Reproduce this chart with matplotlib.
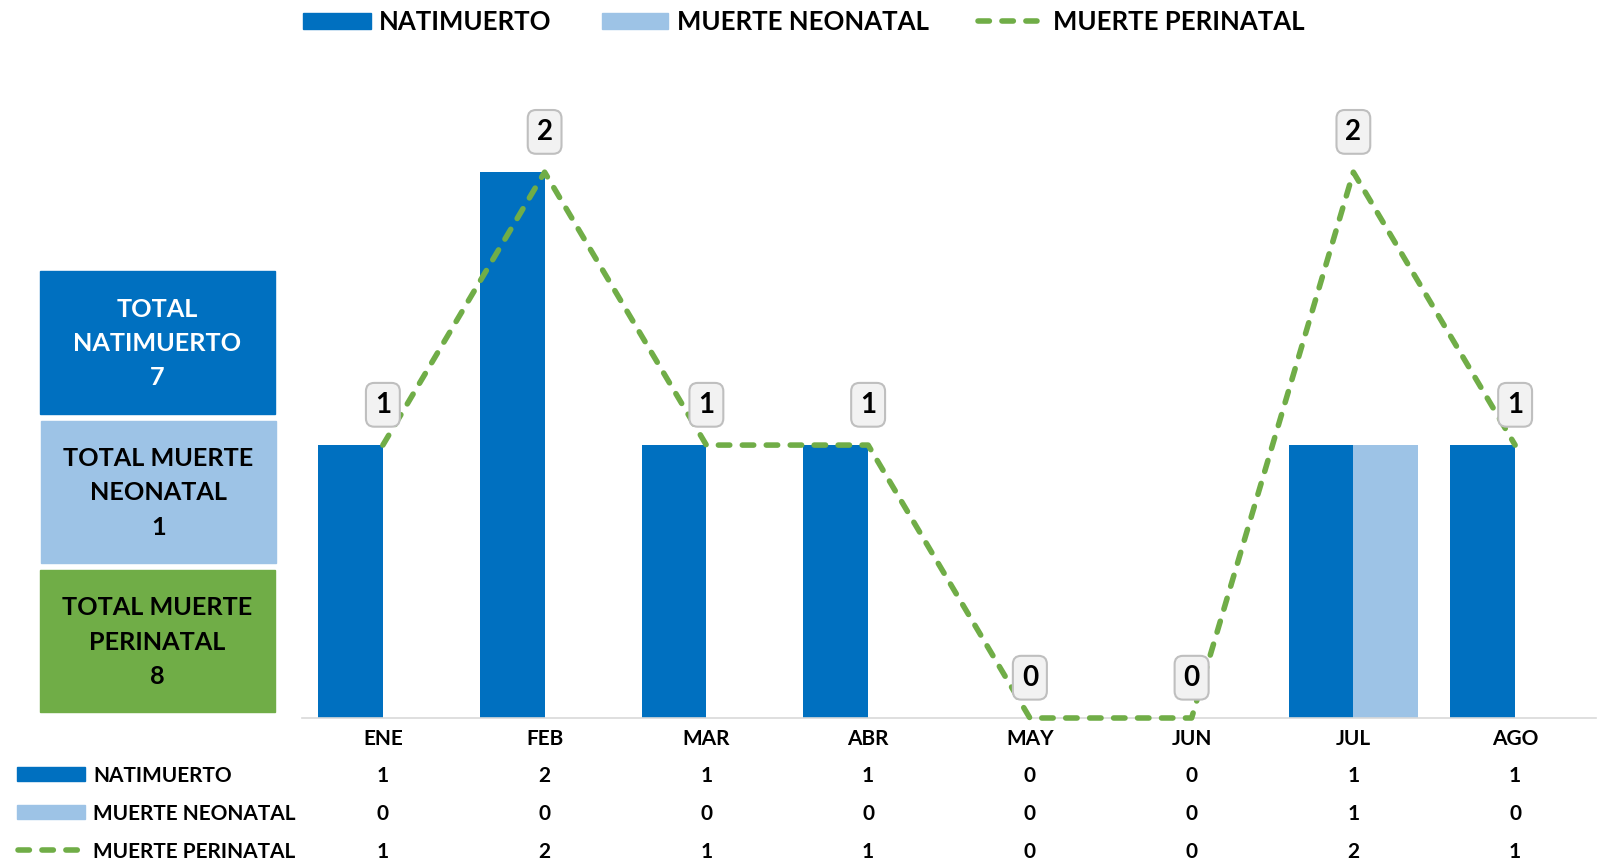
import matplotlib
matplotlib.use("Agg")
import matplotlib.pyplot as plt
import matplotlib.transforms as mtransforms
from matplotlib.patches import Rectangle
from matplotlib.lines import Line2D
import numpy as np

months = ["ENE", "FEB", "MAR", "ABR", "MAY", "JUN", "JUL", "AGO"]
natimuerto = [1, 2, 1, 1, 0, 0, 1, 1]
neonatal = [0, 0, 0, 0, 0, 0, 1, 0]
perinatal = [1, 2, 1, 1, 0, 0, 2, 1]
series_names = ["NATIMUERTO", "MUERTE NEONATAL", "MUERTE PERINATAL"]
totals = [7, 1, 8]

C_DARK = "#0070C0"
C_LIGHT = "#9DC3E6"
C_GREEN = "#70AD47"

plt.rcParams['font.family'] = ['Lato', 'DejaVu Sans']
S_TICK, S_BOX, S_LAB, S_LEG = 15.0, 18.2, 20, 18.5

W, H = 1601, 866
fig = plt.figure(figsize=(W / 100, H / 100), dpi=100)

def fx(px):
    return px / W

def fy(py):
    return 1 - py / H

ax = fig.add_axes([fx(302), fy(718), fx(1596) - fx(302), fy(63) - fy(718)])
x = np.arange(len(months))
bw = 0.4
ax.bar(x - bw / 2, natimuerto, width=bw, color=C_DARK, zorder=2)
ax.bar(x + bw / 2, neonatal, width=bw, color=C_LIGHT, zorder=2)
LW = 4.0
DASH = (0, (2.05, 2.26))
ax.plot(x, perinatal, color=C_GREEN, lw=LW, ls=DASH,
        dash_capstyle='round', zorder=3, clip_on=False)

ax.set_xlim(-0.5, len(months) - 0.5)
ax.set_ylim(0, 2.4)
for s in ["top", "right", "left"]:
    ax.spines[s].set_visible(False)
ax.spines["bottom"].set_color("#D9D9D9")
ax.spines["bottom"].set_linewidth(1.2)
ax.set_yticks([])
ax.set_xticks(x, months)
ax.tick_params(axis='x', length=0, pad=8, labelsize=S_TICK)
for lab in ax.get_xticklabels():
    lab.set_fontweight('bold')

# data labels on the line
for xi, v in zip(x, perinatal):
    ax.annotate(str(v), (xi, v), xytext=(0, 29), textcoords='offset points',
                ha='center', va='center', fontsize=S_LAB, fontweight='bold',
                color='black', zorder=5,
                bbox=dict(boxstyle='round,pad=0.32,rounding_size=0.3',
                          fc='#F2F2F2', ec='#BFBFBF', lw=1.5))

# top legend
leg_items = [(303, 371, 379, 'bar', C_DARK, series_names[0]),
             (602, 668, 677, 'bar', C_LIGHT, series_names[1]),
             (975, 1040, 1053, 'line', C_GREEN, series_names[2])]
for x0, x1, xt, kind, col, name in leg_items:
    if kind == 'bar':
        fig.add_artist(Rectangle((fx(x0), fy(29)), fx(x1) - fx(x0), fy(13) - fy(29),
                                 transform=fig.transFigure, color=col))
    else:
        fig.add_artist(Line2D([fx(x0 + 3), fx(x1 - 3)], [fy(21), fy(21)],
                              transform=fig.transFigure, color=col, lw=LW,
                              ls=DASH, dash_capstyle='round'))
    fig.text(fx(xt), fy(22), name, ha='left', va='center', fontsize=S_LEG,
             fontweight='bold', color='black')

# data table below
trans = mtransforms.blended_transform_factory(ax.transData, fig.transFigure)
row_y = [774, 812, 850]
rows = [natimuerto, neonatal, perinatal]
for ry, vals, name, kind, col in zip(row_y, rows, series_names,
                                      ['bar', 'bar', 'line'],
                                      [C_DARK, C_LIGHT, C_GREEN]):
    if kind == 'bar':
        fig.add_artist(Rectangle((fx(17), fy(ry + 7)), fx(85) - fx(17), fy(ry - 7) - fy(ry + 7),
                                 transform=fig.transFigure, color=col))
    else:
        fig.add_artist(Line2D([fx(18), fx(82)], [fy(ry), fy(ry)],
                              transform=fig.transFigure, color=col, lw=LW,
                              ls=DASH, dash_capstyle='round'))
    fig.text(fx(93), fy(ry + 2), name, ha='left', va='center', fontsize=S_TICK,
             fontweight='bold', color='black')
    for xi, v in zip(x, vals):
        ax.text(xi, fy(ry + 2), str(v), transform=trans, ha='center', va='center',
                fontsize=S_TICK, fontweight='bold', color='black')

# total boxes
boxes = [((40, 271, 275, 414), C_DARK, 'white', "TOTAL\nNATIMUERTO\n%d" % totals[0]),
         ((41, 421, 276, 563), C_LIGHT, 'black', "TOTAL MUERTE\nNEONATAL\n%d" % totals[1]),
         ((40, 570, 275, 712), C_GREEN, 'black', "TOTAL MUERTE\nPERINATAL\n%d" % totals[2])]
for (x0, y0, x1, y1), fc, tc, txt in boxes:
    fig.add_artist(Rectangle((fx(x0), fy(y1)), fx(x1) - fx(x0), fy(y0) - fy(y1),
                             transform=fig.transFigure, color=fc))
    fig.text(fx((x0 + x1) / 2), fy((y0 + y1) / 2 + 1), txt, ha='center', va='center',
             fontsize=S_BOX, fontweight='bold', color=tc, linespacing=1.58)

fig.savefig("out.png", dpi=100)
